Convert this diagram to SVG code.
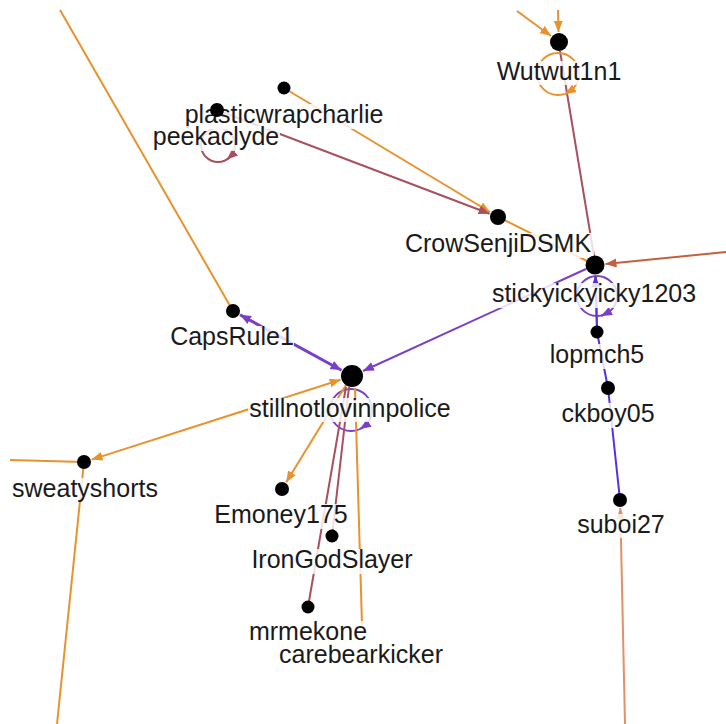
<svg xmlns="http://www.w3.org/2000/svg" width="726" height="724" viewBox="0 0 726 724">
<style>
.e{fill:none;stroke-width:2}
.o{stroke:#e8922e}
.m{stroke:#a8505e}
.p{stroke:#7a3fc8}
.b{stroke:#5530e0}
.r{stroke:#c2603f}
.s{stroke:#e39066}
.bg{fill:#fff;fill-opacity:0.82}
.t{font-family:"Liberation Sans",Arial,sans-serif;font-size:25px;fill:#1a1a1a;text-anchor:middle}
.d{fill:#000}
</style>
<defs>
<marker id="ao" markerUnits="userSpaceOnUse" markerWidth="12" markerHeight="10" refX="11" refY="4.5" orient="auto-start-reverse"><path d="M0,0 L11,4.5 L0,9 z" fill="#e8922e"/></marker>
<marker id="am" markerUnits="userSpaceOnUse" markerWidth="12" markerHeight="10" refX="11" refY="4.5" orient="auto-start-reverse"><path d="M0,0 L11,4.5 L0,9 z" fill="#a8505e"/></marker>
<marker id="ap" markerUnits="userSpaceOnUse" markerWidth="12" markerHeight="10" refX="11" refY="4.5" orient="auto-start-reverse"><path d="M0,0 L11,4.5 L0,9 z" fill="#7a3fc8"/></marker>
<marker id="ab" markerUnits="userSpaceOnUse" markerWidth="12" markerHeight="10" refX="11" refY="4.5" orient="auto-start-reverse"><path d="M0,0 L11,4.5 L0,9 z" fill="#5530e0"/></marker>
<marker id="ar" markerUnits="userSpaceOnUse" markerWidth="12" markerHeight="10" refX="11" refY="4.5" orient="auto-start-reverse"><path d="M0,0 L11,4.5 L0,9 z" fill="#c2603f"/></marker>
<marker id="as" markerUnits="userSpaceOnUse" markerWidth="12" markerHeight="10" refX="11" refY="4.5" orient="auto-start-reverse"><path d="M0,0 L11,4.5 L0,9 z" fill="#e39066"/></marker>
</defs>
<rect width="726" height="724" fill="#fff"/>
<g id="connectors">
<path class="e o" d="M517,11 L551,36" marker-end="url(#ao)"/>
<path class="e o" d="M558,10 L558.5,32" marker-end="url(#ao)"/>
<path class="e m" d="M560,51 L594,256"/>
<circle class="e o" cx="558" cy="74" r="21"/>
<path class="e o" d="M570,91 L565,94" marker-end="url(#ao)"/>
<path class="e o" d="M284,88 L490,212" marker-end="url(#ao)"/>
<path class="e m" d="M217,110 L489.6,213.8" marker-end="url(#am)"/>
<circle class="e m" cx="218" cy="145" r="17"/>
<path class="e m" d="M232,155 L227,159.5" marker-end="url(#am)"/>
<path class="e o" d="M498,217 L587,261"/>
<path class="e r" d="M726,252 L605.5,264" marker-end="url(#ar)"/>
<path class="e p" d="M586,269 L363,371" marker-end="url(#ap)"/>
<circle class="e p" cx="597" cy="296" r="20"/>
<path class="e p" d="M607,313 L601,316" marker-end="url(#ap)"/>
<path class="e r" d="M596,275 L597,326"/>
<path class="e b" d="M597,332 L595.3,276" marker-end="url(#ab)"/>
<path class="e b" d="M608,388 L597,332"/>
<path class="e b" d="M620,500 L608,388"/>
<path class="e s" d="M625,724 L620.3,508" marker-end="url(#as)"/>
<path class="e o" d="M60,10 L233,311"/>
<path class="e p" style="stroke-width:3" d="M240,314.8 L341.5,370.2" marker-start="url(#ap)" marker-end="url(#ap)"/>
<circle class="e p" cx="351" cy="410" r="21"/>
<path class="e p" d="M366,425 L360,429" marker-end="url(#ap)"/>
<path class="e o" d="M91.6,459.6 L340.6,379.7" marker-start="url(#ao)" marker-end="url(#ao)"/>
<path class="e o" d="M346,385 L286.2,482.2" marker-end="url(#ao)"/>
<path class="e m" d="M349,387 L332,536"/>
<path class="e m" d="M346,387 L308,607"/>
<path class="e o" d="M362,625 L355,388"/>
<path class="e o" d="M10,460 L84,462"/>
<path class="e o" d="M84,462 L57,724"/>
</g>
<g id="Wutwut1n1"><rect class="bg" x="496" y="61" width="126" height="24"/><text class="t" x="559" y="80">Wutwut1n1</text><circle class="d" cx="559" cy="42" r="9"/></g>
<g id="plasticwrapcharlie"><rect class="bg" x="185" y="104" width="199" height="25"/><text class="t" x="284" y="123">plasticwrapcharlie</text><circle class="d" cx="284" cy="88" r="6.5"/></g>
<g id="peekaclyde"><rect class="bg" x="153" y="126" width="127" height="25"/><text class="t" x="216" y="145">peekaclyde</text><circle class="d" cx="217" cy="110" r="7"/></g>
<g id="CrowSenjiDSMK"><rect class="bg" x="403" y="233" width="191" height="25"/><text class="t" x="498" y="252">CrowSenjiDSMK</text><circle class="d" cx="498" cy="217" r="8"/></g>
<g id="stickyickyicky1203"><rect class="bg" x="491" y="283" width="207" height="25"/><text class="t" x="594" y="302">stickyickyicky1203</text><circle class="d" cx="595" cy="265" r="9.5"/></g>
<g id="lopmch5"><rect class="bg" x="550" y="344" width="95" height="25"/><text class="t" x="597" y="363">lopmch5</text><circle class="d" cx="597" cy="332" r="6.5"/></g>
<g id="ckboy05"><rect class="bg" x="560" y="403" width="97" height="25"/><text class="t" x="608" y="422">ckboy05</text><circle class="d" cx="608" cy="388" r="7"/></g>
<g id="suboi27"><rect class="bg" x="575" y="514" width="92" height="24"/><text class="t" x="621" y="533">suboi27</text><circle class="d" cx="620" cy="500" r="7"/></g>
<g id="CapsRule1"><rect class="bg" x="170" y="326" width="124" height="24"/><text class="t" x="232" y="345">CapsRule1</text><circle class="d" cx="233" cy="311" r="7"/></g>
<g id="stillnotlovinnpolice"><rect class="bg" x="248" y="398" width="204" height="24"/><text class="t" x="350" y="417">stillnotlovinnpolice</text><circle class="d" cx="352" cy="376" r="11"/></g>
<g id="sweatyshorts"><rect class="bg" x="11" y="478" width="149" height="24"/><text class="t" x="85" y="497">sweatyshorts</text><circle class="d" cx="84" cy="462" r="7"/></g>
<g id="Emoney175"><rect class="bg" x="213" y="504" width="136" height="25"/><text class="t" x="281" y="523">Emoney175</text><circle class="d" cx="282" cy="489" r="7"/></g>
<g id="IronGodSlayer"><rect class="bg" x="250" y="549" width="164" height="25"/><text class="t" x="332" y="568">IronGodSlayer</text><circle class="d" cx="332" cy="536" r="6.5"/></g>
<g id="carebearkicker"><rect class="bg" x="278" y="644" width="166" height="24"/><text class="t" x="361" y="663">carebearkicker</text></g>
<g id="mrmekone"><rect class="bg" x="248" y="621" width="121" height="24"/><text class="t" x="308" y="640">mrmekone</text><circle class="d" cx="308" cy="607" r="6.5"/></g>
</svg>
